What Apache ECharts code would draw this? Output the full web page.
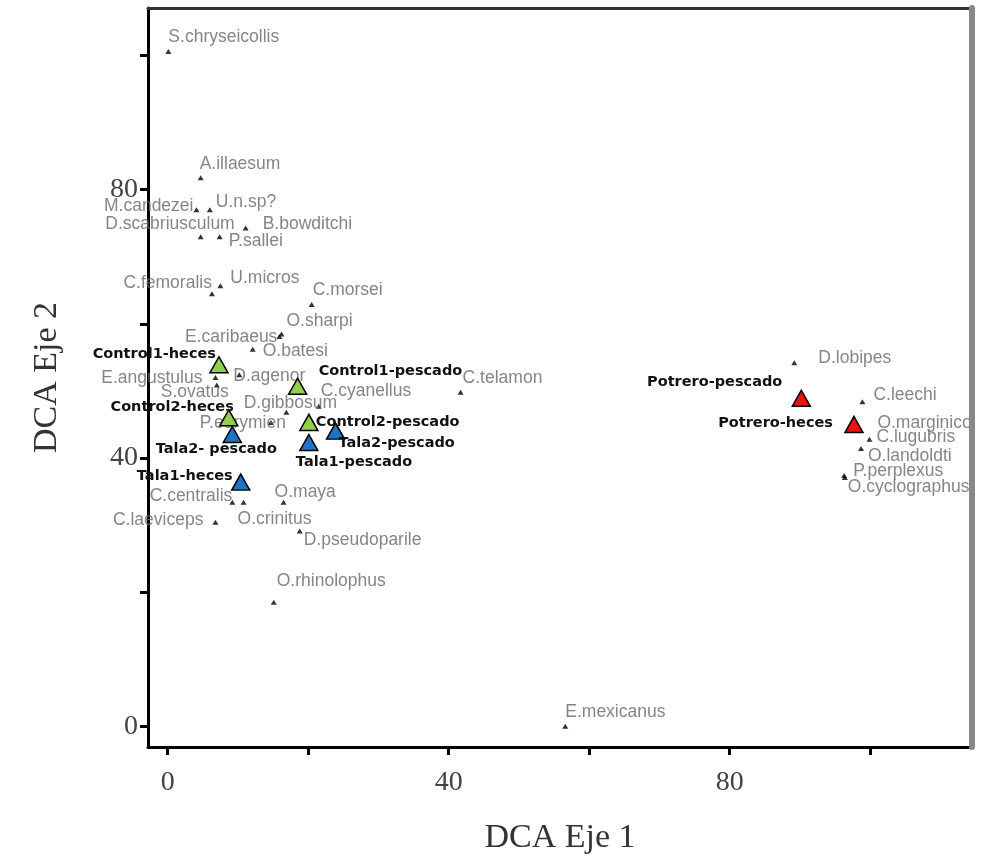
<!DOCTYPE html>
<html>
<head>
<meta charset="utf-8">
<script src="https://cdn.jsdelivr.net/npm/echarts@6/dist/echarts.min.js"></script>
<style>html,body{margin:0;padding:0;background:#fff}#c{width:984px;height:860px}</style>
</head>
<body>
<div id="c"></div>
<script>
// ---- data ----
var speciesNames = ["S.chryseicollis","A.illaesum","M.candezei","U.n.sp?","D.scabriusculum","P.sallei","B.bowditchi","C.femoralis","U.micros","C.morsei","O.sharpi","E.caribaeus","O.batesi","E.angustulus","S.ovatus","D.agenor","C.cyanellus","D.gibbosum","C.telamon","P.eurymien","C.centralis","O.crinitus","O.maya","C.laeviceps","D.pseudoparile","O.rhinolophus","E.mexicanus","D.lobipes","C.leechi","O.marginicollis","C.lugubris","O.landoldti","P.perplexus","O.cyclographus"];
var speciesX = [0.1,4.7,4.1,6.0,4.7,7.4,11.1,6.3,7.5,20.5,16.2,15.9,12.1,6.8,7.0,10.2,21.5,16.9,41.7,14.7,9.2,10.8,16.5,6.8,18.8,15.1,56.6,89.2,98.9,97.9,99.9,98.7,96.3,96.4];
var speciesY = [100.6,81.8,77.0,77.0,73.0,73.0,74.3,64.5,65.7,62.9,58.5,58.1,56.2,52.0,50.9,52.4,47.7,46.8,49.8,45.3,33.4,33.4,33.4,30.4,29.1,18.5,0.0,54.2,48.4,44.5,42.8,41.4,37.4,37.1];

var sampleNames = ["Control1-heces","Control1-pescado","Control2-heces","Control2-pescado","Tala2- pescado","Tala2-pescado","Tala1-pescado","Tala1-heces","Potrero-pescado","Potrero-heces"];
var sampleGroup = ["Control","Control","Control","Control","Tala","Tala","Tala","Tala","Potrero","Potrero"];
var sampleX = [7.3,18.5,8.7,20.1,9.2,23.9,20.1,10.4,90.2,97.7];
var sampleY = [53.9,50.7,46.0,45.3,43.5,44.0,42.3,36.4,48.9,45.0];

var xTicks = [0,20,40,60,80,100];
var xTickLabels = [0,40,80];
var yTicks = [0,20,40,60,80,100];
var yTickLabels = [0,40,80];

// ---- label placement (style only): [align, dx, dy] ----
var speciesLabelPos = [
  ["left",0,-14],["left",-1,-13],["right",-3,-4],["left",6,-8],["right",34,-13],["left",9,4],["left",17,-4],
  ["right",0,-11],["left",10,-7],["left",1,-14],["left",5,-13],["right",-2,1],["left",10,2],["right",-13,1],
  ["right",12,7],["left",-6,1],["left",2,-15],["center",4,-9],["left",2,-14],["right",15,1],["right",0,-6],
  ["left",-6,17],["left",-9,-10],["right",-12,-2],["left",4,9],["left",3,-21],["left",0,-14],["left",24,-5],
  ["left",11,-6],["left",22,-5],["left",7,-2],["left",7,8],["left",9,-4],["left",3,10]
];
var sampleLabelPos = [
  ["right",-3,-11],["left",21,-15],["right",5,-11],["left",7,0],["center",-16,15],["left",3,12],
  ["left",-13,20],["right",-8,-6],["right",-19,-16],["right",-21,-1]
];
var groupColor = {Control:"#8fcf4c", Tala:"#1f74c6", Potrero:"#ee1111"};

function speciesData(){
  return speciesNames.map(function(n,i){
    var p = speciesLabelPos[i];
    return {name:n, value:[speciesX[i], speciesY[i]],
      label:{show:true, position:"inside", formatter:n, align:p[0], verticalAlign:"middle", offset:[p[1],p[2]],
        color:"#666", fontFamily:"Liberation Sans", fontSize:17.5}};
  });
}
function groupSeries(g){
  var d = [];
  sampleNames.forEach(function(n,i){
    if (sampleGroup[i] !== g) return;
    var p = sampleLabelPos[i];
    d.push({name:n, value:[sampleX[i], sampleY[i]],
      label:{show:true, position:"inside", formatter:n, align:p[0], verticalAlign:"middle", offset:[p[1],p[2]],
        color:"#111", fontFamily:"DejaVu Sans", fontWeight:"bold", fontSize:14.5}});
  });
  return {type:"scatter", name:g, symbol:"triangle", symbolSize:[18,16], z:5,
    itemStyle:{color:groupColor[g], borderColor:"#000", borderWidth:1.5, opacity:1}, data:d};
}

var chart = echarts.init(document.getElementById("c"), null, {renderer:"canvas"});
chart.setOption({
  animation:false,
  backgroundColor:"#fff",
  grid:{left:148, right:12, top:8, bottom:112, containLabel:false},
  xAxis:[{
    type:"value", min:-2.8, max:114.5, position:"bottom",
    name:"DCA Eje 1", nameLocation:"middle", nameGap:74,
    nameTextStyle:{fontFamily:"Liberation Serif", fontSize:34, color:"#333"},
    axisLine:{show:true, onZero:false, lineStyle:{color:"#000", width:3}},
    axisTick:{show:true, length:8, lineStyle:{color:"#000", width:3}, customValues:xTicks},
    axisLabel:{customValues:xTickLabels, margin:22, fontFamily:"Liberation Serif", fontSize:28, color:"#444"},
    splitLine:{show:false}
  },{
    type:"value", min:-2.8, max:114.5, position:"top",
    axisLine:{show:true, onZero:false, lineStyle:{color:"#333", width:3}},
    axisTick:{show:false}, axisLabel:{show:false}, splitLine:{show:false}
  }],
  yAxis:[{
    type:"value", min:-3.1, max:107.1, position:"left",
    name:"DCA Eje 2", nameLocation:"middle", nameGap:84, nameRotate:90,
    nameTextStyle:{fontFamily:"Liberation Serif", fontSize:34, color:"#333"},
    axisLine:{show:true, onZero:false, lineStyle:{color:"#000", width:3}},
    axisTick:{show:true, length:8, lineStyle:{color:"#000", width:3}, customValues:yTicks},
    axisLabel:{customValues:yTickLabels, margin:10, fontFamily:"Liberation Serif", fontSize:28, color:"#444"},
    splitLine:{show:false}
  },{
    type:"value", min:-3.1, max:107.1, position:"right", z:20,
    axisLine:{show:true, onZero:false, lineStyle:{color:"#888", width:6}},
    axisTick:{show:false}, axisLabel:{show:false}, splitLine:{show:false}
  }],
  graphic:[{type:"rect", left:975, top:0, z:15, shape:{width:9, height:860}, style:{fill:"#fff"}}],
  series:[
    {type:"scatter", name:"species", symbol:"triangle", symbolSize:[6,5], z:3,
     itemStyle:{color:"#000"}, data:speciesData()},
    groupSeries("Control"), groupSeries("Tala"), groupSeries("Potrero")
  ]
});
</script>
</body>
</html>
